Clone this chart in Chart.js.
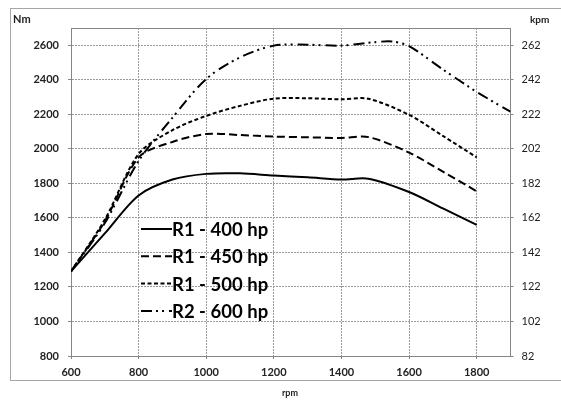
<!DOCTYPE html>
<html>
<head>
<meta charset="utf-8">
<script src="https://cdn.jsdelivr.net/npm/chart.js@4.4.1/dist/chart.umd.min.js"></script>
<style>
  html, body { margin: 0; padding: 0; background: #fff; }
</style>
</head>
<body>
<canvas id="torqueChart" width="561" height="405"></canvas>
<script>
// rpm points
const rpmR1 = [600, 700, 800, 900, 1000, 1100, 1200, 1300, 1400, 1480, 1600, 1700, 1800];
const rpmR2 = [600, 700, 800, 900, 1000, 1100, 1200, 1300, 1400, 1500, 1550, 1600, 1700, 1800, 1900];

// torque, Nm
const r1_400 = [1290, 1510, 1730, 1822, 1855, 1858, 1845, 1835, 1822, 1827, 1750, 1655, 1560];
const r1_450 = [1290, 1580, 1950, 2040, 2086, 2080, 2071, 2067, 2063, 2068, 1978, 1868, 1754];
const r1_500 = [1290, 1590, 1970, 2108, 2191, 2249, 2291, 2293, 2287, 2290, 2197, 2075, 1951];
const r2_600 = [1290, 1570, 1930, 2180, 2405, 2530, 2598, 2603, 2598, 2618, 2622, 2595, 2460, 2330, 2215];

const seriesNames = ["R1 - 400 hp", "R1 - 450 hp", "R1 - 500 hp", "R2 - 600 hp"];

// axis ticks
const rpmTicks = [600, 800, 1000, 1200, 1400, 1600, 1800];
const nmTicks = [800, 1000, 1200, 1400, 1600, 1800, 2000, 2200, 2400, 2600];
const kpmTicks = [82, 102, 122, 142, 162, 182, 202, 222, 242, 262];

const dashes = [[], [8, 4], [4, 2.5], [11, 4, 2, 4, 2, 5]];

function toPoints(xs, ys) {
  return xs.map((x, i) => ({ x: x, y: ys[i] }));
}

const axisColor = "#868686";
const gridColor = "#9a9a9a";
const fontFamily = "Lato, 'Liberation Sans', sans-serif";

const framePlugin = {
  id: "frame",
  beforeDraw(chart) {
    const ctx = chart.ctx;
    ctx.save();
    ctx.fillStyle = "#fff";
    ctx.fillRect(0, 0, chart.width, chart.height);
    ctx.strokeStyle = "#a6a6a6";
    ctx.lineWidth = 1;
    ctx.strokeRect(10.5, 8.5, chart.width, 372);
    ctx.restore();
  },
  afterDraw(chart) {
    const ctx = chart.ctx;
    const a = chart.chartArea;
    ctx.save();
    // top edge of plot
    ctx.strokeStyle = axisColor;
    ctx.lineWidth = 1;
    ctx.beginPath();
    ctx.moveTo(a.left, Math.round(a.top) + 0.5);
    ctx.lineTo(a.right, Math.round(a.top) + 0.5);
    ctx.stroke();

    // axis titles
    ctx.fillStyle = "#222";
    ctx.textBaseline = "middle";
    ctx.font = "bold 11px " + fontFamily;
    ctx.textAlign = "left";
    ctx.fillText("Nm", 13, 19);
    ctx.font = "bold 10px " + fontFamily;
    ctx.fillText("kpm", 530, 20);
    ctx.font = "bold 9px " + fontFamily;
    ctx.textAlign = "center";
    ctx.fillText("rpm", 290, 393);

    // legend inside plot
    ctx.font = "bold 18.5px " + fontFamily;
    ctx.textAlign = "left";
    const lx = a.left + 70;
    const ly = a.top + 201;
    chart.data.datasets.forEach((ds, i) => {
      const y = ly + i * 27.3;
      ctx.strokeStyle = "#000";
      ctx.lineWidth = 2;
      ctx.setLineDash(ds.borderDash);
      ctx.beginPath();
      ctx.moveTo(lx, y);
      ctx.lineTo(lx + 31, y);
      ctx.stroke();
      ctx.setLineDash([]);
      ctx.fillStyle = "#000";
      ctx.fillText(ds.label, lx + 31, y + 1);
    });
    ctx.restore();
  }
};

const datasets = [
  { label: seriesNames[0], data: toPoints(rpmR1, r1_400), borderDash: dashes[0] },
  { label: seriesNames[1], data: toPoints(rpmR1, r1_450), borderDash: dashes[1] },
  { label: seriesNames[2], data: toPoints(rpmR1, r1_500), borderDash: dashes[2] },
  { label: seriesNames[3], data: toPoints(rpmR2, r2_600), borderDash: dashes[3] }
].map(ds => Object.assign(ds, {
  borderColor: "#000",
  borderWidth: 2,
  pointRadius: 0,
  fill: false,
  tension: 0.3,
  yAxisID: "y"
}));

new Chart(document.getElementById("torqueChart"), {
  type: "line",
  data: { datasets: datasets },
  options: {
    responsive: false,
    animation: false,
    layout: { padding: { top: 28, left: 0, right: 0, bottom: 0 } },
    plugins: {
      legend: { display: false },
      tooltip: { enabled: false }
    },
    scales: {
      x: {
        type: "linear",
        min: 600,
        max: 1900,
        afterBuildTicks: (scale) => { scale.ticks = rpmTicks.map(v => ({ value: v })); },
        afterFit: (scale) => { scale.height = 49; },
        ticks: {
          color: "#222",
          font: { family: fontFamily, size: 11, weight: "bold" },
          padding: 7,
          maxRotation: 0,
          callback: (v) => String(v)
        },
        grid: { color: gridColor, tickColor: axisColor, tickLength: 3 },
        border: { color: axisColor, dash: [2, 1] }
      },
      y: {
        position: "left",
        min: 800,
        max: 2700,
        afterBuildTicks: (scale) => { scale.ticks = nmTicks.map(v => ({ value: v })); },
        afterFit: (scale) => { scale.width = 71; },
        ticks: {
          color: "#222",
          font: { family: fontFamily, size: 11, weight: "bold" },
          padding: 9,
          callback: (v) => String(v)
        },
        grid: { color: gridColor, tickColor: axisColor, tickLength: 3 },
        border: { color: axisColor, dash: [2, 1] }
      },
      y2: {
        position: "right",
        min: 82,
        max: 272,
        afterBuildTicks: (scale) => { scale.ticks = kpmTicks.map(v => ({ value: v })); },
        afterFit: (scale) => { scale.width = 50.5; },
        ticks: {
          color: "#222",
          font: { family: fontFamily, size: 11 },
          padding: 8,
          callback: (v) => String(v)
        },
        grid: { drawOnChartArea: false, tickColor: axisColor, tickLength: 3 },
        border: { color: axisColor }
      }
    }
  },
  plugins: [framePlugin]
});
</script>
</body>
</html>
